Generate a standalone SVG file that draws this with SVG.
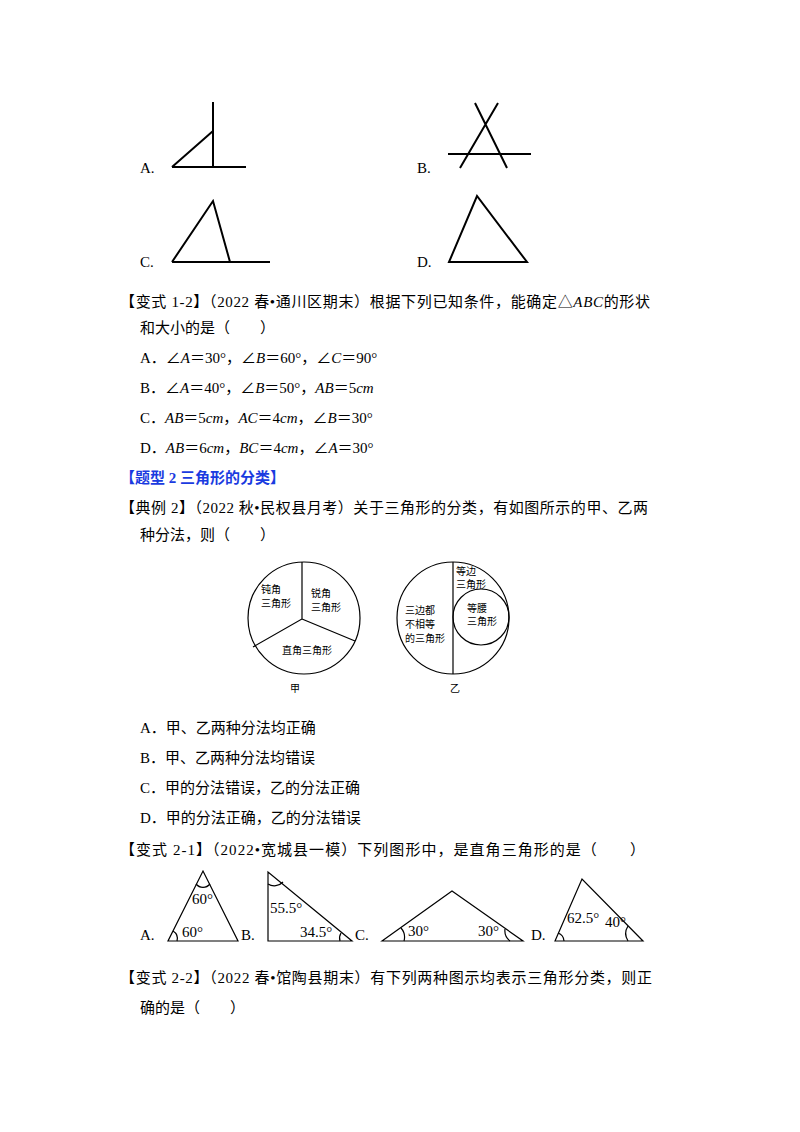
<svg xmlns="http://www.w3.org/2000/svg" width="800" height="1132" viewBox="0 0 800 1132">
<style>
text{font-family:"Liberation Serif","Noto Sans CJK SC",serif;font-size:15px;fill:#000}
.s{font-family:"Noto Sans CJK SC",sans-serif;font-size:10px}
.b{font-weight:bold;fill:#1a3be0}
.l{stroke:#000;stroke-width:2;fill:none}
.t{stroke:#000;stroke-width:1.2;fill:none}
</style>
<rect width="800" height="1132" fill="#fff"/>
<g id="figs1">
<text x="140" y="173">A.</text>
<path class="l" d="M213 102V167M172 167H246M172 167L213 131"/>
<text x="417" y="173">B.</text>
<path class="l" d="M448 154H531M460 168L498 103M475 103L507 168"/>
<text x="140" y="267">C.</text>
<path class="l" d="M172 262H270M172 262L213 201L230 262"/>
<text x="417" y="267">D.</text>
<path class="l" d="M449 262H527L477 196Z"/>
</g>
<g id="q12">
<text x="120" y="307" textLength="530" lengthAdjust="spacing">【变式 1-2】（2022 春•通川区期末）根据下列已知条件，能确定△<tspan font-style="italic">ABC</tspan>的形状</text>
<text x="140" y="333">和大小的是（　　）</text>
<text x="140" y="363">A．∠<tspan font-style="italic">A</tspan>＝30°，∠<tspan font-style="italic">B</tspan>＝60°，∠<tspan font-style="italic">C</tspan>＝90°</text>
<text x="140" y="393">B．∠<tspan font-style="italic">A</tspan>＝40°，∠<tspan font-style="italic">B</tspan>＝50°，<tspan font-style="italic">AB</tspan>＝5<tspan font-style="italic">cm</tspan></text>
<text x="140" y="423">C．<tspan font-style="italic">AB</tspan>＝5<tspan font-style="italic">cm</tspan>，<tspan font-style="italic">AC</tspan>＝4<tspan font-style="italic">cm</tspan>，∠<tspan font-style="italic">B</tspan>＝30°</text>
<text x="140" y="453">D．<tspan font-style="italic">AB</tspan>＝6<tspan font-style="italic">cm</tspan>，<tspan font-style="italic">BC</tspan>＝4<tspan font-style="italic">cm</tspan>，∠<tspan font-style="italic">A</tspan>＝30°</text>
<text x="120" y="483" class="b">【题型 2 三角形的分类】</text>
<text x="120" y="513" textLength="528" lengthAdjust="spacing">【典例 2】（2022 秋•民权县月考）关于三角形的分类，有如图所示的甲、乙两</text>
<text x="140" y="540">种分法，则（　　）</text>
</g>
<g id="jia">
<circle class="t" cx="304" cy="618" r="56"/>
<path class="t" d="M302 562V619L253 647M302 619L355 641"/>
<text class="s" x="261" y="593">钝角</text><text class="s" x="261" y="607">三角形</text>
<text class="s" x="311" y="597">锐角</text><text class="s" x="311" y="611">三角形</text>
<text class="s" x="282" y="654">直角三角形</text>
<text class="s" x="290" y="692">甲</text>
</g>
<g id="yi">
<circle class="t" cx="453" cy="618" r="56"/>
<path class="t" d="M453 562V674"/>
<circle class="t" cx="481" cy="617" r="28"/>
<text class="s" x="456" y="575">等边</text><text class="s" x="456" y="588">三角形</text>
<text class="s" x="467" y="612">等腰</text><text class="s" x="467" y="625">三角形</text>
<text class="s" x="405" y="614">三边都</text><text class="s" x="405" y="628">不相等</text><text class="s" x="405" y="642">的三角形</text>
<text class="s" x="450" y="692">乙</text>
</g>
<g id="q2">
<text x="140" y="733">A．甲、乙两种分法均正确</text>
<text x="140" y="763">B．甲、乙两种分法均错误</text>
<text x="140" y="793">C．甲的分法错误，乙的分法正确</text>
<text x="140" y="823">D．甲的分法正确，乙的分法错误</text>
<text x="120" y="855" textLength="525" lengthAdjust="spacing">【变式 2-1】（2022•宽城县一模）下列图形中，是直角三角形的是（　　）</text>
</g>
<g id="figs2">
<text x="140" y="940">A.</text>
<path class="t" d="M168 941H238L203 871Z"/>
<path class="t" d="M196 884A9 9 0 0 0 210 884M173 931A9 9 0 0 1 177 941"/>
<text x="192" y="904" font-size="13">60°</text>
<text x="182" y="937" font-size="13">60°</text>
<text x="241" y="940">B.</text>
<path class="t" d="M268 872V941H352Z"/>
<path class="t" d="M268 884A12 12 0 0 0 283 882M341 933A10 10 0 0 0 340 941"/>
<text x="270" y="913" font-size="13">55.5°</text>
<text x="300" y="937" font-size="13">34.5°</text>
<text x="355" y="940">C.</text>
<path class="t" d="M382 941L452 891L523 941Z"/>
<path class="t" d="M401 928A14 14 0 0 1 404 941M505 929A13 13 0 0 0 510 941"/>
<text x="408" y="936" font-size="13">30°</text>
<text x="478" y="936" font-size="13">30°</text>
<text x="531" y="940">D.</text>
<path class="t" d="M555 941L582 879L643 941Z"/>
<path class="t" d="M558 933A9 9 0 0 1 564 941M628 926A14 14 0 0 0 628 941"/>
<text x="567" y="923" font-size="13">62.5°</text>
<text x="605" y="927" font-size="13">40°</text>
</g>
<g id="q22">
<text x="120" y="983" textLength="532" lengthAdjust="spacing">【变式 2-2】（2022 春•馆陶县期末）有下列两种图示均表示三角形分类，则正</text>
<text x="140" y="1013">确的是（　　）</text>
</g>
</svg>
